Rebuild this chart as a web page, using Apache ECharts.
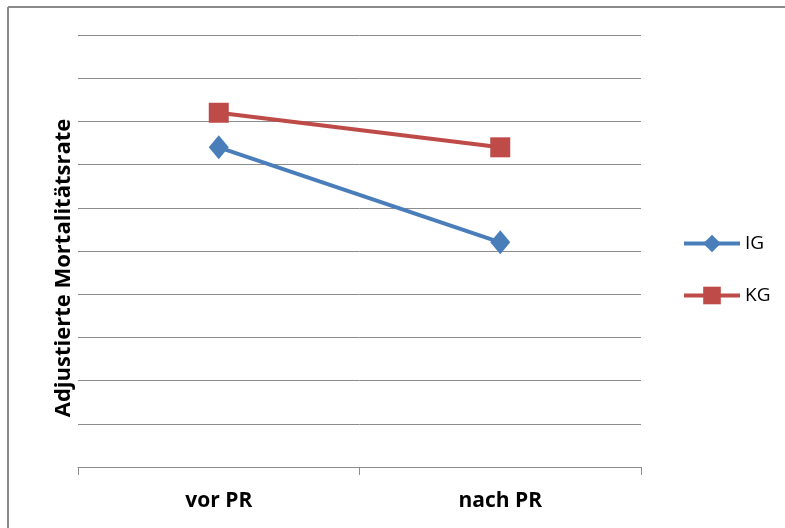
<!DOCTYPE html>
<html>
<head>
<meta charset="utf-8">
<title>Adjustierte Mortalitätsrate</title>
<script src="https://cdn.jsdelivr.net/npm/echarts@6/dist/echarts.min.js"></script>
<style>
  html, body { margin: 0; padding: 0; background: #fff; }
  #chart { width: 785px; height: 528px; }
</style>
</head>
<body>
<div id="chart"></div>
<script>
// Zeitpunkte und adjustierte Mortalitätsraten je Gruppe
const categories = ['vor PR', 'nach PR'];
const seriesNames = ['IG', 'KG'];
const igValues = [7.4, 5.2];
const kgValues = [8.2, 7.4];
const axisTitle = 'Adjustierte Mortalitätsrate';

const FONT = '"Open Sans", Lato, sans-serif';
const BLUE = '#4A7EBB';
const RED = '#BE4B48';
const GRID = '#8C8C8C';

const chart = echarts.init(document.getElementById('chart'), null, { renderer: 'canvas' });

chart.setOption({
  animation: false,
  backgroundColor: '#fff',
  grid: { left: 78, right: 144, top: 35, bottom: 61 },
  legend: {
    orient: 'vertical',
    left: 677,
    top: 229,
    itemWidth: 56,
    itemHeight: 22,
    itemGap: 33,
    data: seriesNames,
    lineStyle: { width: 4 },
    textStyle: { fontFamily: FONT, fontSize: 19, color: '#000' }
  },
  xAxis: {
    type: 'category',
    data: categories,
    boundaryGap: true,
    axisLine: { lineStyle: { color: GRID, width: 1 } },
    axisTick: { show: true, length: 8, lineStyle: { color: GRID, width: 1 } },
    axisLabel: { margin: 24, fontFamily: FONT, fontSize: 21, fontWeight: 'bold', color: '#000' }
  },
  yAxis: {
    type: 'value',
    min: 0,
    max: 10,
    interval: 1,
    axisLine: { show: false },
    axisTick: { show: false },
    axisLabel: { show: false },
    splitLine: { lineStyle: { color: GRID, width: 1 } }
  },
  series: [
    {
      name: seriesNames[0],
      type: 'line',
      data: igValues,
      color: BLUE,
      symbol: 'diamond',
      symbolSize: [20, 24],
      lineStyle: { width: 4, color: BLUE },
      itemStyle: { color: BLUE }
    },
    {
      name: seriesNames[1],
      type: 'line',
      data: kgValues,
      color: RED,
      symbol: 'rect',
      symbolSize: 20,
      lineStyle: { width: 4, color: RED },
      itemStyle: { color: RED }
    }
  ],
  graphic: [
    // Rahmen des Diagrammbereichs (oben und links sichtbar)
    { type: 'line', shape: { x1: 8, y1: 7, x2: 785, y2: 7 }, style: { stroke: '#8A8A8A', lineWidth: 2 } },
    { type: 'line', shape: { x1: 8, y1: 7, x2: 8, y2: 528 }, style: { stroke: '#8A8A8A', lineWidth: 2 } },
    // Achsentitel
    {
      type: 'text',
      x: 64,
      y: 268,
      rotation: Math.PI / 2,
      style: {
        text: axisTitle,
        font: 'bold 22px ' + FONT,
        fill: '#000',
        align: 'center',
        verticalAlign: 'middle'
      }
    }
  ]
});
</script>
</body>
</html>
